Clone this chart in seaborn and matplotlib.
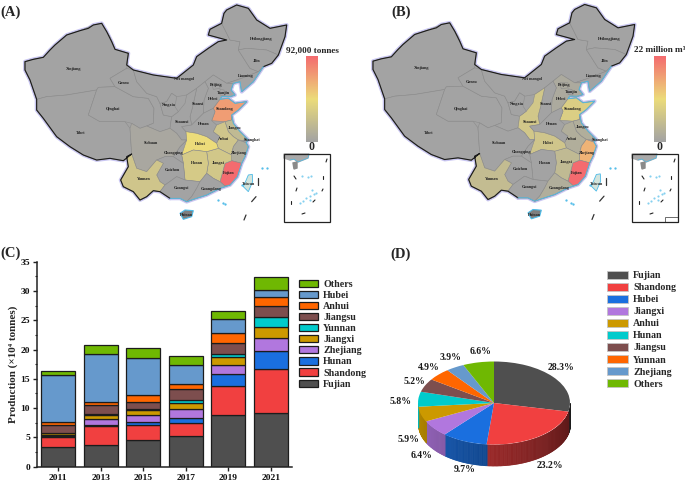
from matplotlib import pyplot as plt
from matplotlib.colors import LinearSegmentedColormap, to_rgb
from matplotlib.patches import Patch, Rectangle
import numpy as np
import pandas as pd
import seaborn as sns

W, H = 685, 483

# bar chart data (x10^4 tonnes)
years = ['2011', '2013', '2015', '2017', '2019', '2021']
stack_order = ['Fujian', 'Shandong', 'Hunan', 'Zhejiang', 'Jiangxi', 'Yunnan', 'Jiangsu', 'Anhui', 'Hubei', 'Others']
fujian = [3.4, 3.7, 4.5, 5.2, 8.8, 9.2]
shandong = [1.6, 3.2, 2.7, 2.2, 5.0, 7.5]
hunan = [0.3, 0.3, 0.4, 1.0, 2.1, 3.1]
zhejiang = [0.1, 1.0, 1.2, 1.4, 1.4, 2.1]
jiangxi = [0.3, 0.7, 0.8, 1.0, 1.5, 1.9]
yunnan = [0.05, 0.1, 0.2, 0.6, 0.5, 1.8]
jiangsu = [1.45, 1.5, 1.3, 1.8, 1.9, 1.8]
anhui = [0.4, 0.5, 1.2, 1.0, 1.7, 1.5]
hubei = [8.0, 8.3, 6.2, 3.2, 2.3, 1.3]
others = [0.8, 1.5, 1.8, 1.5, 1.4, 2.2]
stack_colors = ['#4f4f4f', '#f14040', '#1a6fdf', '#b177de', '#cc9900', '#00cbcc', '#7d4e4e', '#ff6600', '#6699cc', '#6fb802']
bar_legend = ['Others', 'Hubei', 'Anhui', 'Jiangsu', 'Yunnan', 'Jiangxi', 'Zhejiang', 'Hunan', 'Shandong', 'Fujian']

# pie data (%)
pie_names = ['Fujian', 'Shandong', 'Hubei', 'Jiangxi', 'Anhui', 'Hunan', 'Jiangsu', 'Yunnan', 'Zhejiang', 'Others']
pie_share = [28.3, 23.2, 9.7, 6.4, 5.9, 5.8, 5.2, 4.9, 3.9, 6.6]
pie_colors = list(stack_colors)
pie_label_xy = [(561, 367), (550, 466), (465, 470), (422, 456), (409, 439), (401, 402), (414, 381), (429, 367), (451, 358), (481, 352)]

# map outlines (units are 1/3 pixel)
land_border = [(510,595),(480,575),(460,572),(440,590),(420,600),(400,575),(370,560),(362,540),(385,500),(380,470),(395,462),
    (370,482),(330,475),(290,480),(250,465),(210,440),(170,410),(130,355),(110,330),(110,298),(90,240),(75,210),(75,185),(100,178),
    (130,172),(150,150),(165,135),(200,105),(240,92),(265,85),(280,75),(305,70),(320,95),(335,125),(345,148),(385,160),(380,195),
    (400,210),(460,225),(530,235),(580,195),(590,170),(625,145),(655,125),(680,120),(625,105),(630,88),(665,70),(672,40),(680,30),
    (710,15),(745,25),(770,60),(810,85),(860,75),(855,110),(835,165),(815,190),(790,200)]
coast = [(790,200),(760,245),(725,275),(720,245),(700,250),(693,270),(705,285),(690,290),(665,290),(660,298),(685,295),(705,310),
    (740,305),(715,330),(695,345),(700,370),(720,395),(735,410),(745,420),(738,428),(745,440),(735,470),(725,490),(712,530),(690,555),
    (660,565),(620,585),(580,598),(560,605),(540,595),(510,595)]
provinces = {
    'Xinjiang': [(75,185),(100,178),(130,172),(165,135),(200,105),(240,92),(280,75),(305,70),(330,110),(345,148),(385,160),(380,205),(330,235),(345,260),(295,262),(290,270),(200,285),(140,290),(110,298),(90,240),(75,210)],
    'Tibet': [(110,298),(140,290),(200,285),(290,270),(265,345),(300,365),(375,365),(390,385),(395,462),(370,482),(330,475),(290,480),(250,465),(210,440),(170,410),(130,355),(110,330)],
    'Qinghai': [(295,262),(345,260),(400,290),(445,295),(462,325),(460,370),(440,378),(420,385),(395,370),(375,365),(300,365),(265,345),(290,270)],
    'Gansu': [(380,205),(330,235),(345,260),(400,290),(445,295),(462,325),(460,370),(440,378),(480,395),(510,385),(515,350),(490,345),(480,310),(470,290),(440,280),(410,245),(400,210)],
    'Nei mongol': [(400,210),(460,225),(530,235),(580,195),(590,170),(625,145),(655,125),(680,120),(625,105),(630,88),(665,70),(690,120),(720,125),(715,150),(750,205),(775,215),(725,235),(680,250),(640,225),(615,245),(590,265),(560,285),(530,290),(515,280),(500,305),(480,310),(470,290),(440,280),(410,245)],
    'Heilongjiang': [(665,70),(672,40),(680,30),(710,15),(745,25),(770,60),(810,85),(860,75),(855,110),(835,165),(800,150),(740,145),(715,150),(720,125),(690,120)],
    'Jilin': [(715,150),(740,145),(800,150),(835,165),(815,190),(790,200),(775,215),(750,205)],
    'Liaoning': [(725,235),(775,215),(790,200),(760,245),(725,275),(720,245),(700,250),(680,250)],
    'Hebei': [(615,245),(640,225),(680,250),(700,250),(693,270),(705,285),(690,290),(665,290),(660,298),(640,325),(610,340),(612,300),(625,265)],
    'Beijing': [(635,250),(660,250),(660,265),(640,268)],
    'Tianjin': [(660,268),(672,270),(675,287),(660,285)],
    'Shanxi': [(590,265),(615,245),(625,265),(612,300),(610,340),(575,375),(570,350),(578,320)],
    'Shaanxi': [(560,285),(590,265),(578,320),(570,350),(575,375),(545,380),(558,395),(560,420),(545,420),(530,400),(510,385),(515,350),(535,335),(555,310)],
    'Ningxia': [(500,305),(515,280),(530,290),(525,320),(535,335),(515,350),(490,345),(480,310)],
    'Shandong': [(660,298),(685,295),(705,310),(740,305),(715,330),(695,345),(695,360),(675,365),(635,362),(645,335),(640,325)],
    'Henan': [(610,340),(640,325),(645,335),(635,362),(650,375),(640,395),(660,410),(650,430),(620,410),(590,400),(558,395),(545,380),(575,375)],
    'Jiangsu': [(675,365),(695,360),(695,345),(700,370),(720,395),(735,410),(738,422),(715,420),(700,410),(685,395)],
    'Shanghai': [(735,410),(745,420),(738,428),(730,425)],
    'Anhui': [(640,395),(650,375),(675,365),(685,395),(700,410),(715,420),(700,440),(695,465),(655,445),(650,430),(660,410)],
    'Zhejiang': [(695,465),(700,440),(715,420),(738,428),(745,440),(735,470),(725,490),(695,482)],
    'Fujian': [(675,490),(695,482),(725,490),(712,530),(690,555),(675,558),(660,545)],
    'Jiangxi': [(620,455),(655,445),(695,465),(695,482),(675,490),(660,545),(640,535),(620,520),(625,490)],
    'Hubei': [(540,440),(560,420),(558,395),(590,400),(620,410),(650,430),(655,445),(620,455),(580,450),(545,465)],
    'Hunan': [(545,465),(580,450),(620,455),(625,490),(620,520),(600,545),(555,540),(550,490)],
    'Chongqing': [(540,440),(560,420),(545,465),(550,490),(520,470)],
    'Sichuan': [(395,462),(390,385),(395,370),(420,385),(440,378),(480,395),(510,385),(530,400),(545,420),(560,420),(540,440),(520,470),(495,470),(470,480),(440,515),(410,505)],
    'Guizhou': [(470,525),(490,490),(470,480),(495,470),(520,470),(550,490),(555,540),(530,530),(495,555),(480,545)],
    'Yunnan': [(395,462),(410,505),(440,515),(470,480),(490,490),(470,525),(480,545),(495,555),(480,575),(460,572),(440,590),(420,600),(400,575),(370,560),(362,540),(385,500),(380,470)],
    'Guangxi': [(495,555),(530,530),(555,540),(600,545),(590,565),(575,590),(560,605),(540,595),(510,595),(480,575)],
    'Guangdong': [(600,545),(620,520),(640,535),(660,545),(675,558),(690,555),(660,565),(620,585),(580,598),(560,605),(575,590),(590,565)],
}
hainan = [(540,640),(555,630),(580,632),(575,650),(550,658)]
taiwan = [(745,525),(757,523),(758,545),(745,575),(730,560)]
dashes = [[(775,535),(775,555)], [(768,590),(755,605)], [(738,645),(732,660)]]
islets = [(785,505),(670,610),(655,600),(675,612),(800,505),(725,555)]
name_xy = {'Xinjiang':(222,207),'Gansu':(372,248),'Qinghai':(340,328),'Tibet':(242,400),'Sichuan':(452,430),'Yunnan':(432,538),
    'Guizhou':(516,510),'Chongqing':(520,458),'Guangxi':(545,563),'Guangdong':(633,566),'Hunan':(590,490),'Jiangxi':(655,488),
    'Fujian':(687,520),'Zhejiang':(716,460),'Anhui':(670,417),'Shanghai':(757,420),'Jiangsu':(705,383),'Hubei':(600,432),
    'Henan':(610,373),'Shandong':(675,328),'Shaanxi':(545,367),'Shanxi':(595,313),'Ningxia':(508,314),'Hebei':(640,298),
    'Tianjin':(670,278),'Beijing':(648,256),'Liaoning':(738,228),'Jilin':(770,183),'Heilongjiang':(785,118),'Nei mongol':(553,238),
    'Taiwan':(745,553),'Hainan':(560,645)}

# colour scale position of each province on the maps, the rest are 0
map_a = {'Fujian':1.0,'Shandong':0.78,'Hubei':0.5,'Hunan':0.34,'Jiangxi':0.32,'Anhui':0.3,'Yunnan':0.3,'Jiangsu':0.2,'Sichuan':0.04,'Zhejiang':0.08}
map_b = {'Fujian':1.0,'Zhejiang':0.68,'Shandong':0.38,'Shaanxi':0.32,'Hubei':0.3,'Yunnan':0.22,'Jiangxi':0.2,'Guangdong':0.1,'Anhui':0.1,'Hebei':0.06,'Beijing':0.06,'Jiangsu':0.1}

sns.set_theme(style='ticks')
plt.rcParams['font.family'] = ['Liberation Serif', 'DejaVu Serif']
plt.rcParams['font.weight'] = 'bold'
plt.rcParams['axes.labelweight'] = 'bold'

fig = plt.figure(figsize=(W/100, H/100), dpi=100, facecolor='white')
def px_axes(left, top, right, bottom):
    return fig.add_axes([left/W, 1-bottom/H, (right-left)/W, (bottom-top)/H])

canvas = fig.add_axes([0, 0, 1, 1])
canvas.set_xlim(0, W)
canvas.set_ylim(H, 0)
canvas.axis('off')

scale = LinearSegmentedColormap.from_list('scale', ['#a3a3a3', '#ecdc7a', '#f46b6f'])
SEA = '#4dbbe8'

def pts(line, dx, dy, k=3.0):
    a = np.array(line, dtype=float)/k
    return a[:, 0]+dx, a[:, 1]+dy

def draw_map(values, dx, dy, top_label, bar_left, inset_left, scalebar):
    x, y = pts(land_border+coast, dx, dy)
    canvas.plot(x, y, color='#c9c6f2', lw=2.8, zorder=1)
    canvas.fill(x, y, color='#a3a3a3', zorder=2)
    for name, shape in provinces.items():
        x, y = pts(shape, dx, dy)
        canvas.fill(x, y, facecolor=scale(values.get(name, 0)), edgecolor='#8c8c8c', lw=0.4, zorder=3)
    x, y = pts(land_border, dx, dy)
    canvas.plot(x, y, color='#1a1a1a', lw=0.8, zorder=4)
    x, y = pts(coast, dx, dy)
    canvas.plot(x, y, color=SEA, lw=0.6, zorder=4)
    x, y = pts(hainan, dx, dy)
    canvas.fill(x, y, facecolor='#7f7f7f', edgecolor=SEA, lw=0.8, zorder=4)
    x, y = pts(taiwan, dx, dy)
    canvas.fill(x, y, facecolor='#d3e4dc', edgecolor=SEA, lw=0.6, zorder=4)
    for d in dashes:
        x, y = pts(d, dx, dy)
        canvas.plot(x, y, color='#333333', lw=0.9, zorder=4)
    x, y = pts(islets, dx, dy)
    canvas.scatter(x, y, s=0.4, color=SEA, zorder=4)
    for name, (nx, ny) in name_xy.items():
        canvas.text(nx/3+dx, ny/3+dy, name, fontsize=3.1, ha='center', va='center', color='#222222', zorder=5)
    # colour bar
    canvas.imshow(np.linspace(1, 0, 128)[:, None], cmap=scale, extent=(bar_left, bar_left+12, 142, 56), aspect='auto', zorder=3)
    canvas.text(bar_left+6, 50, top_label, fontsize=6.6, ha='center', va='center')
    canvas.text(bar_left+6, 147, '0', fontsize=8.5, ha='center', va='center')
    canvas.set_xlim(0, W)
    canvas.set_ylim(H, 0)
    # south china sea inset
    canvas.add_patch(Rectangle((inset_left, 154), 46, 68, facecolor='white', edgecolor='none', zorder=3))
    ix = np.array([0, 0, 6, 10, 14, 19, 24, 25])+inset_left
    iy = np.array([0, 4, 6, 5, 8, 6, 4, 0])+154
    canvas.fill(ix, iy, color='#a9a9a9', zorder=4)
    canvas.plot(ix[2:], iy[2:], color=SEA, lw=0.5, zorder=4)
    canvas.fill(inset_left+np.array([9, 13, 13, 10]), 154+np.array([9, 8, 14, 15]), color='#8a8a8a', zorder=4)
    for sx, sy, ex, ey in [(10,22,12,25),(39,22,39,25),(13,34,12,37),(39,35,38,37),(7,47,7,50),(31,46,29,48),(18,60,21,59),(43,5,42,8)]:
        canvas.plot([inset_left+sx, inset_left+ex], [154+sy, 154+ey], color='#222222', lw=0.8, zorder=5)
    for sx, sy in [(18,22),(24,23),(27,22),(30,40),(26,42),(22,44),(19,47),(26,46),(32,39),(16,49),(28,36)]:
        canvas.scatter(inset_left+sx, 154+sy, s=0.3, color=SEA, alpha=0.7, zorder=5)
    if scalebar:
        canvas.add_patch(Rectangle((inset_left+33, 217), 13, 5, facecolor='white', edgecolor='#555555', lw=0.6, zorder=5))
    canvas.add_patch(Rectangle((inset_left, 154), 46, 68, facecolor='none', edgecolor='#222222', lw=0.9, zorder=6))

draw_map(map_a, 0, 0, '92,000 tonnes', 306, 284, False)
draw_map(map_b, 348, -0.5, '22 million m³', 654, 632, True)

canvas.text(0, 12, '(A)', fontsize=10.5, ha='left', va='center')
canvas.text(401, 12, '(B)', fontsize=10.5, ha='center', va='center')
canvas.text(0, 253, '(C)', fontsize=10.5, ha='left', va='center')
canvas.text(401, 254, '(D)', fontsize=10.5, ha='center', va='center')

# (C) stacked bars, histplot stacks the first hue on top
stack_values = [fujian, shandong, hunan, zhejiang, jiangxi, yunnan, jiangsu, anhui, hubei, others]
df = pd.DataFrame({'year': years*len(stack_order),
                   'province': [p for p in stack_order for _ in years],
                   'value': np.concatenate(stack_values)})
ax = px_axes(37, 261.7, 292, 466.7)
ax.patch.set_alpha(0)
sns.histplot(df, x='year', weights='value', hue='province', hue_order=stack_order[::-1], multiple='stack', discrete=True, shrink=0.8,
             palette=stack_colors[::-1], alpha=1, edgecolor='#1c1c1c', linewidth=0.9, legend=False, ax=ax)
ax.set_xlim(-0.5, 5.5)
ax.set_ylim(0, 35)
ax.set_yticks(np.arange(0, 36, 5))
ax.set_xlabel('')
ax.set_ylabel('Production (×10⁴ tonnes)', fontsize=8, labelpad=2)
ax.tick_params(labelsize=6.8, width=1, length=3, pad=2, color='#222222', labelcolor='#111111')
ax.set_yticks(np.arange(2.5, 35, 5), minor=True)
ax.tick_params(which='minor', width=0.8, length=1.8, color='#222222')
for s in ['top', 'right']:
    ax.spines[s].set_visible(False)
for s in ['left', 'bottom']:
    ax.spines[s].set_linewidth(1.1)
    ax.spines[s].set_color('#222222')

color_of = dict(zip(stack_order, stack_colors))
fig.legend(handles=[Patch(facecolor=color_of[n], edgecolor='#1c1c1c', lw=0.9) for n in bar_legend], labels=bar_legend,
           loc='upper left', bbox_to_anchor=(299/W, 1-280/H), frameon=False, fontsize=7.2, handlelength=1.9, handleheight=0.72,
           labelspacing=0.2, handletextpad=0.5, borderpad=0, borderaxespad=0)

# (D) pie, squashed with a drawn side wall
pax = px_axes(494-91.2, 353.2, 494+91.2, 477.7)
depth = 21/41.5
shares = np.array(pie_share)
edges = 90-360*np.concatenate([[0], np.cumsum(shares)])/shares.sum()
for i, col in enumerate(pie_colors):
    a0, a1 = edges[i+1], edges[i]
    for lo, hi in [(a0, a1), (a0+360, a1+360)]:
        lo, hi = max(lo, 180), min(hi, 360)
        if hi <= lo:
            continue
        steps = np.linspace(lo, hi, max(2, int(hi-lo)+2))
        for s0, s1 in zip(steps[:-1], steps[1:]):
            xs = np.cos(np.radians([s0, s1]))
            ys = np.sin(np.radians([s0, s1]))
            shade = np.array(to_rgb(col))*(0.9-0.55*(s0-180)/180)
            pax.fill_between(xs, ys-depth, ys, facecolor=shade, edgecolor=shade, lw=0.5, zorder=1)
wedges, _ = pax.pie(pie_share, colors=pie_colors, startangle=90, counterclock=False, radius=1, wedgeprops={'lw': 0})
for w in wedges:
    w.set_zorder(2)
pax.set_aspect('auto')
pax.set_xlim(-1.2, 1.2)
pax.set_ylim(-1.8, 1.2)
for share, (lx, ly) in zip(pie_share, pie_label_xy):
    canvas.text(lx, ly, f'{share}%', fontsize=7, ha='center', va='center', color='#1a1a1a')

color_pie = dict(zip(pie_names, pie_colors))
fig.legend(handles=[Patch(facecolor=color_pie[n], edgecolor='#c4c4c4', lw=0.6) for n in pie_names], labels=pie_names,
           loc='upper left', bbox_to_anchor=(607/W, 1-271/H), frameon=False, fontsize=7.2, handlelength=2.1, handleheight=0.78,
           labelspacing=0.28, handletextpad=0.5, borderpad=0, borderaxespad=0)

fig.savefig('out.png', dpi=100)
